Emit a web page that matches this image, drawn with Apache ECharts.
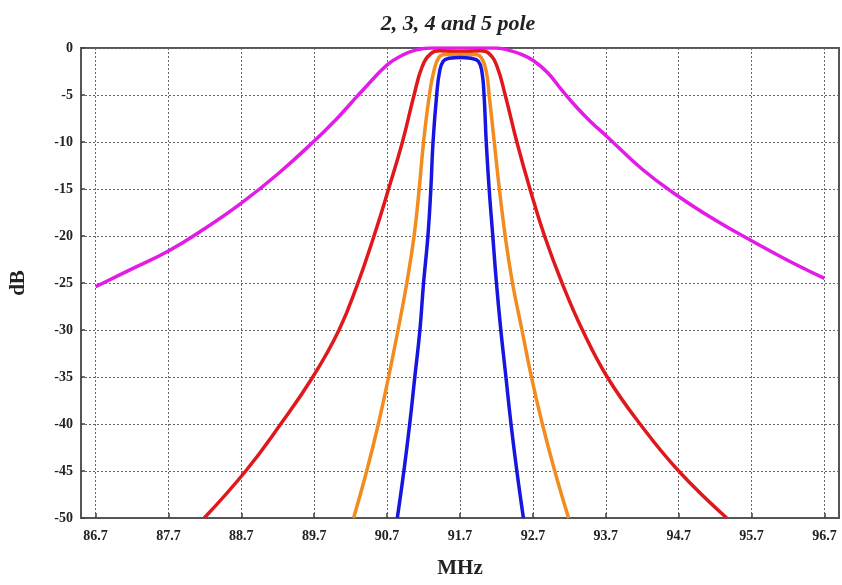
<!DOCTYPE html>
<html>
<head>
<meta charset="utf-8">
<script src="https://cdn.jsdelivr.net/npm/echarts@6/dist/echarts.min.js"></script>
<style>
html,body{margin:0;padding:0;background:#fff;}
#chart{width:842px;height:585px;}
</style>
</head>
<body>
<div id="chart"></div>
<script>
// ---- data ----
const xTickValues = [86.7, 87.7, 88.7, 89.7, 90.7, 91.7, 92.7, 93.7, 94.7, 95.7, 96.7];

const pole2Freq = [86.7, 87.2, 87.7, 88.2, 88.7, 89.2, 89.7, 90.0, 90.2, 90.4, 90.7, 90.9, 91.1, 91.3, 91.75, 92.2, 92.4, 92.55, 92.7, 92.9, 93.1, 93.3, 93.5, 93.7, 94.2, 94.7, 95.2, 95.7, 96.2, 96.7];
const pole2dB   = [-25.4, -23.5, -21.6, -19.2, -16.5, -13.4, -9.9, -7.6, -5.9, -4.2, -1.8, -0.8, -0.2, 0, 0, 0, -0.3, -0.7, -1.3, -2.6, -4.5, -6.3, -7.9, -9.3, -12.9, -15.8, -18.3, -20.5, -22.6, -24.5];

const pole3Freq = [88.19, 88.76, 89.24, 89.68, 90.04, 90.3, 90.52, 90.72, 90.91, 91.07, 91.18, 91.3, 91.42, 91.7, 91.98, 92.1, 92.21, 92.32, 92.48, 92.66, 92.86, 93.1, 93.38, 93.72, 94.17, 94.7, 95.36];
const pole3dB   = [-50, -45, -40, -35, -30, -25, -20, -15, -10, -5, -2, -0.6, -0.3, -0.4, -0.3, -0.6, -2, -5, -10, -15, -20, -25, -30, -35, -40, -45, -50];

const pole4Freq = [90.24, 90.42, 90.58, 90.72, 90.85, 90.97, 91.07, 91.14, 91.2, 91.28, 91.34, 91.41, 91.5, 91.7, 91.9, 91.99, 92.06, 92.1, 92.17, 92.24, 92.32, 92.42, 92.55, 92.68, 92.83, 93.0, 93.19];
const pole4dB   = [-50, -45, -40, -35, -30, -25, -20, -15, -10, -5, -2.5, -1.0, -0.7, -0.7, -0.7, -1.0, -2.5, -5, -10, -15, -20, -25, -30, -35, -40, -45, -50];

const pole5Freq = [90.84, 90.93, 91.01, 91.08, 91.15, 91.2, 91.26, 91.3, 91.33, 91.38, 91.42, 91.47, 91.55, 91.7, 91.85, 91.95, 92.0, 92.03, 92.06, 92.1, 92.15, 92.2, 92.26, 92.33, 92.4, 92.48, 92.57];
const pole5dB   = [-50, -45, -40, -35, -30, -25, -20, -15, -10, -5, -2.5, -1.4, -1.1, -1.0, -1.1, -1.4, -2.5, -5, -10, -15, -20, -25, -30, -35, -40, -45, -50];

// ---- chart ----
const zip = (a, b) => a.map((v, i) => [v, b[i]]);
const serif = 'Liberation Serif';
const chart = echarts.init(document.getElementById('chart'));

function lineSeries(name, f, d, color) {
  return {
    name: name, type: 'line', data: zip(f, d), showSymbol: false,
    smooth: 0.45, clip: true,
    lineStyle: { color: color, width: 3.5 }, itemStyle: { color: color }
  };
}

chart.setOption({
  animation: false,
  backgroundColor: '#ffffff',
  title: {
    text: '2, 3, 4 and 5 pole', left: 453, top: 8, textAlign: 'center',
    textStyle: { fontFamily: serif, fontStyle: 'italic', fontWeight: 'bold', fontSize: 22, color: '#222' }
  },
  grid: { left: 79.5, right: 3, top: 48, bottom: 67, show: true, borderColor: '#555', borderWidth: 2, backgroundColor: 'transparent' },
  xAxis: {
    type: 'value', min: 86.5, max: 96.9,
    name: 'MHz', nameLocation: 'middle', nameGap: 40,
    nameTextStyle: { fontFamily: serif, fontWeight: 'bold', fontSize: 21, color: '#222' },
    axisLine: { show: true, onZero: false, lineStyle: { color: '#555', width: 2 } },
    axisTick: { show: true, inside: true, length: 5, customValues: xTickValues, lineStyle: { color: '#444', width: 1.5 } },
    axisLabel: { customValues: xTickValues, margin: 11, fontFamily: serif, fontWeight: 'bold', fontSize: 14, color: '#222',
      formatter: v => v.toFixed(1) },
    splitLine: { show: true, lineStyle: { color: '#666', type: [2, 2], width: 1 } }
  },
  yAxis: {
    type: 'value', min: -50, max: 0, interval: 5,
    name: 'dB', nameLocation: 'middle', nameGap: 52, nameRotate: 90,
    nameTextStyle: { fontFamily: serif, fontWeight: 'bold', fontSize: 21, color: '#222' },
    axisLine: { show: true, lineStyle: { color: '#555', width: 2 } },
    axisTick: { show: true, inside: true, length: 4, lineStyle: { color: '#444', width: 1.5 } },
    axisLabel: { margin: 8, fontFamily: serif, fontWeight: 'bold', fontSize: 14, color: '#222' },
    splitLine: { show: true, lineStyle: { color: '#666', type: [2, 2], width: 1 } }
  },
  series: [
    lineSeries('2 pole', pole2Freq, pole2dB, '#e21ce6'),
    lineSeries('3 pole', pole3Freq, pole3dB, '#e0181c'),
    lineSeries('4 pole', pole4Freq, pole4dB, '#f28c1e'),
    lineSeries('5 pole', pole5Freq, pole5dB, '#1616e0')
  ]
});
</script>
</body>
</html>
